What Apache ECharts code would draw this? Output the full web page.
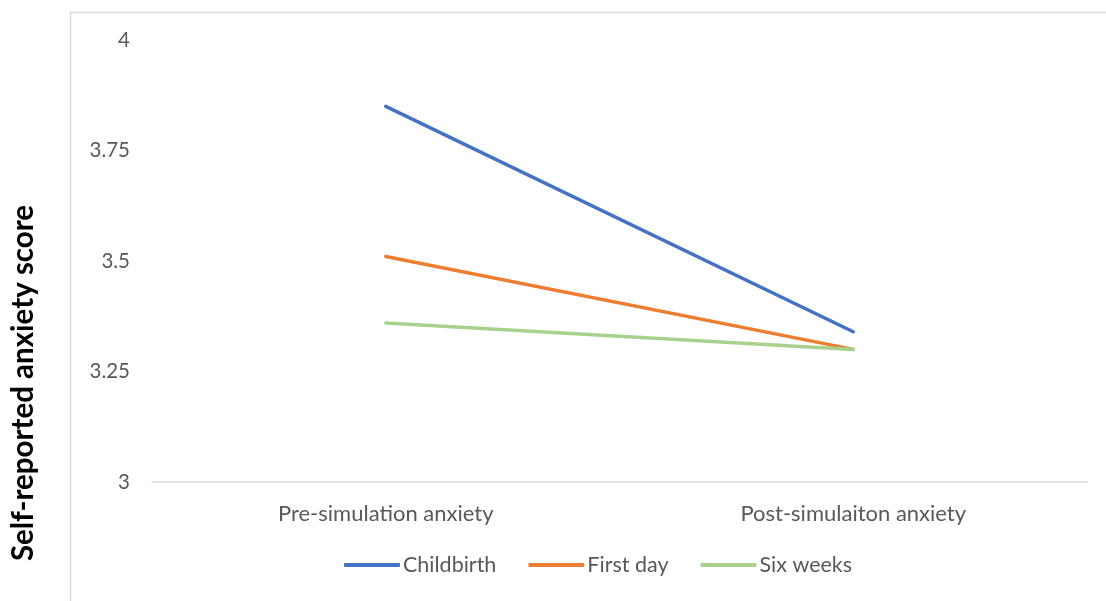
<!DOCTYPE html>
<html>
<head>
<meta charset="utf-8">
<script src="https://cdn.jsdelivr.net/npm/echarts@6/dist/echarts.min.js"></script>
<style>
  html, body { margin: 0; padding: 0; background: #fff; }
  #chart { width: 1106px; height: 601px; }
</style>
</head>
<body>
<div id="chart"></div>
<script>
// Mean self-reported anxiety before and after the simulation, per scenario
const categories = ['Pre-simulation anxiety', 'Post-simulaiton anxiety'];
const childbirth = [3.85, 3.34];
const firstDay = [3.51, 3.30];
const sixWeeks = [3.36, 3.30];
const yTicks = [3, 3.25, 3.5, 3.75, 4];
const yTitle = 'Self-reported anxiety score';

const FONT = 'Lato, "Liberation Sans", sans-serif';
const chart = echarts.init(document.getElementById('chart'), null, { renderer: 'canvas' });

function lineSeries(name, data, color) {
  return {
    name: name,
    type: 'line',
    data: data,
    symbol: 'none',
    lineStyle: { color: color, width: 3.5, cap: 'round' },
    itemStyle: { color: color },
    emphasis: { disabled: true },
    animation: false
  };
}

chart.setOption({
  backgroundColor: '#ffffff',
  animation: false,
  graphic: [
    {
      // frame of the plot region (left and top edges)
      type: 'polyline',
      shape: { points: [[70.5, 601], [70.5, 12.5], [1106, 12.5]] },
      style: { stroke: '#d9d9d9', lineWidth: 1.5, fill: null },
      silent: true
    },
    {
      // vertical axis title
      type: 'text',
      x: 23,
      y: 383,
      rotation: Math.PI / 2,
      style: {
        text: yTitle,
        fontFamily: FONT,
        fontSize: 29.5,
        fontWeight: 'bold',
        fill: '#000000',
        align: 'center',
        verticalAlign: 'middle'
      },
      silent: true
    }
  ],
  grid: { left: 152, right: 19, top: 40, bottom: 119, containLabel: false },
  legend: {
    bottom: 20,
    left: 339,
    itemWidth: 56,
    itemHeight: 4,
    itemGap: 32,
    icon: 'roundRect',
    textStyle: { fontFamily: FONT, fontSize: 21.5, color: '#595959', padding: [0, 0, 0, -2] },
    data: ['Childbirth', 'First day', 'Six weeks']
  },
  xAxis: {
    type: 'category',
    data: categories,
    boundaryGap: true,
    axisLine: { show: true, lineStyle: { color: '#d9d9d9', width: 1.5 } },
    axisTick: { show: false },
    axisLabel: { fontFamily: FONT, fontSize: 22, color: '#595959', margin: 21 }
  },
  yAxis: {
    type: 'value',
    min: 3,
    max: 4,
    interval: 0.25,
    axisLine: { show: false },
    axisTick: { show: false },
    splitLine: { show: false },
    axisLabel: {
      fontFamily: FONT, fontSize: 20.5, color: '#595959', margin: 22,
      formatter: function (v) {
        const t = yTicks.find(function (x) { return Math.abs(x - v) < 1e-9; });
        return t === undefined ? '' : String(t);
      }
    }
  },
  series: [
    lineSeries('Childbirth', childbirth, '#4472c4'),
    lineSeries('First day', firstDay, '#ed7d31'),
    lineSeries('Six weeks', sixWeeks, '#a9d18e')
  ]
});
</script>
</body>
</html>
